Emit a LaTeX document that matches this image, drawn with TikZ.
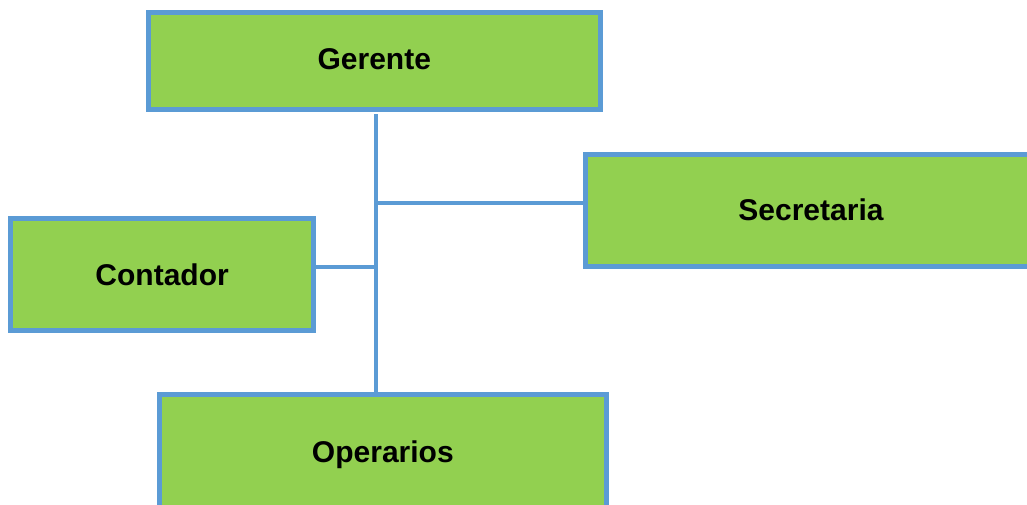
\documentclass[tikz,border=0pt]{standalone}
\usepackage{fontspec}
\setmainfont{Liberation Sans}
\definecolor{boxfill}{HTML}{92D050}
\definecolor{boxline}{HTML}{5B9BD5}
\begin{document}
\begin{tikzpicture}[x=1pt,y=-1pt,
  orgbox/.style={draw=boxline,fill=boxfill,line width=5pt,inner sep=0pt,
    text depth=4pt,
    font=\fontsize{30}{36}\selectfont\bfseries},
  link/.style={draw=boxline,line width=4pt}]
\useasboundingbox (0,0) rectangle (1027,504);
\clip (0,0) rectangle (1027,504);
\node[orgbox,text height=21pt,minimum width=452.5pt,minimum height=97.5pt] (gerente) at (374.25,60.75) {Gerente};
\node[orgbox,text height=23.2pt,minimum width=451pt,minimum height=112.7pt] (secretaria) at (811,210.4) {Secretaria};
\node[orgbox,text height=25.5pt,minimum width=302.7pt,minimum height=111.5pt] (contador) at (162.1,274.25) {Contador};
\node[orgbox,text height=26pt,minimum width=447.7pt,minimum height=112.6pt] (operarios) at (382.85,451) {Operarios};
\coordinate (vtop) at (375.5,114);
\coordinate (jsec) at (375.5,203);
\coordinate (jcon) at (375.5,267);
\draw[link] (vtop) -- (vtop |- operarios.north);
\draw[link] (jsec) -- (jsec -| secretaria.west);
\draw[link] (jcon) -- (jcon -| contador.east);
\end{tikzpicture}
\end{document}
